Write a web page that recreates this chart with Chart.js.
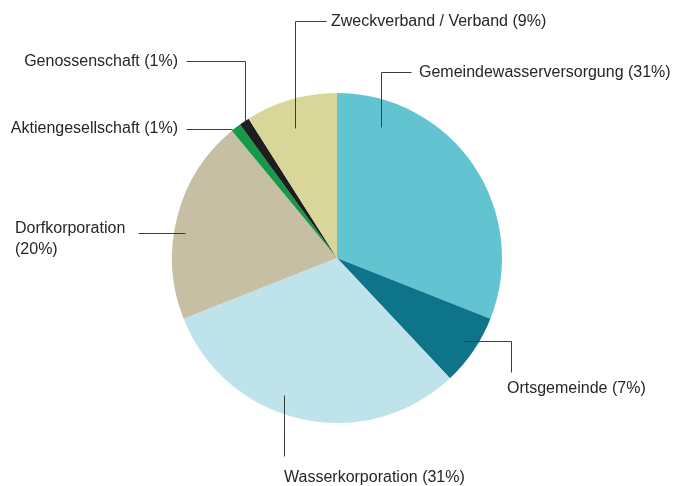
<!DOCTYPE html>
<html>
<head>
<meta charset="utf-8">
<script src="https://cdn.jsdelivr.net/npm/chart.js@4/dist/chart.umd.min.js"></script>
<style>
  html, body { margin: 0; padding: 0; background: #fff; }
  #wrap { width: 680px; height: 486px; position: relative; }
</style>
</head>
<body>
<div id="wrap"><canvas id="graphique-kuchen"></canvas></div>
<script>
// Daten
const categories = [
  'Gemeindewasserversorgung',
  'Ortsgemeinde',
  'Wasserkorporation',
  'Dorfkorporation',
  'Aktiengesellschaft',
  'Genossenschaft',
  'Zweckverband / Verband'
];
const shares = [31, 7, 31, 20, 1, 1, 9];
const colors = ['#62c3d1', '#0e7489', '#bee3ea', '#c7bfa4', '#17994a', '#1e1e1e', '#d8d698'];

// Beschriftungen mit Führungslinien (Textzeilen, Textposition, Ausrichtung, Linienpunkte)
const labelLayout = [
  { lines: ['Gemeindewasserversorgung (31%)'], x: 419, y: 73, align: 'left', path: [[381, 127], [381, 72], [411, 72]] },
  { lines: ['Ortsgemeinde (7%)'], x: 507, y: 389, align: 'left', path: [[463, 341], [511, 341], [511, 372]] },
  { lines: ['Wasserkorporation (31%)'], x: 284, y: 478, align: 'left', path: [[284, 395], [284, 456]] },
  { lines: ['Dorfkorporation', '(20%)'], x: 15, y: 229, align: 'left', path: [[138, 233], [185, 233]] },
  { lines: ['Aktiengesellschaft (1%)'], x: 178, y: 129, align: 'right', path: [[186, 129], [232, 129]] },
  { lines: ['Genossenschaft (1%)'], x: 178, y: 62, align: 'right', path: [[186, 61], [245, 61], [245, 121]] },
  { lines: ['Zweckverband / Verband (9%)'], x: 331, y: 22, align: 'left', path: [[295, 128], [295, 21], [326, 21]] }
];

const leaderLabels = {
  id: 'leaderLabels',
  afterDatasetsDraw(chart) {
    const ctx = chart.ctx;
    ctx.save();
    ctx.strokeStyle = '#3c3c3c';
    ctx.lineWidth = 1;
    labelLayout.forEach(l => {
      ctx.beginPath();
      l.path.forEach((p, i) => {
        const px = Math.round(p[0]) + 0.5, py = Math.round(p[1]) + 0.5;
        if (i === 0) ctx.moveTo(px, py); else ctx.lineTo(px, py);
      });
      ctx.stroke();
    });
    ctx.fillStyle = '#262626';
    ctx.font = '16px "Liberation Sans", Arial, sans-serif';
    ctx.textBaseline = 'middle';
    labelLayout.forEach(l => {
      ctx.textAlign = l.align;
      l.lines.forEach((t, i) => ctx.fillText(t, l.x, l.y + i * 21));
    });
    ctx.restore();
  }
};

new Chart(document.getElementById('graphique-kuchen'), {
  type: 'pie',
  data: {
    labels: categories,
    datasets: [{
      data: shares,
      backgroundColor: colors,
      borderWidth: 0
    }]
  },
  options: {
    responsive: true,
    maintainAspectRatio: false,
    animation: false,
    layout: { padding: { left: 172, right: 178, top: 93, bottom: 63 } },
    plugins: {
      legend: { display: false },
      tooltip: { enabled: false }
    }
  },
  plugins: [leaderLabels]
});
</script>
</body>
</html>
